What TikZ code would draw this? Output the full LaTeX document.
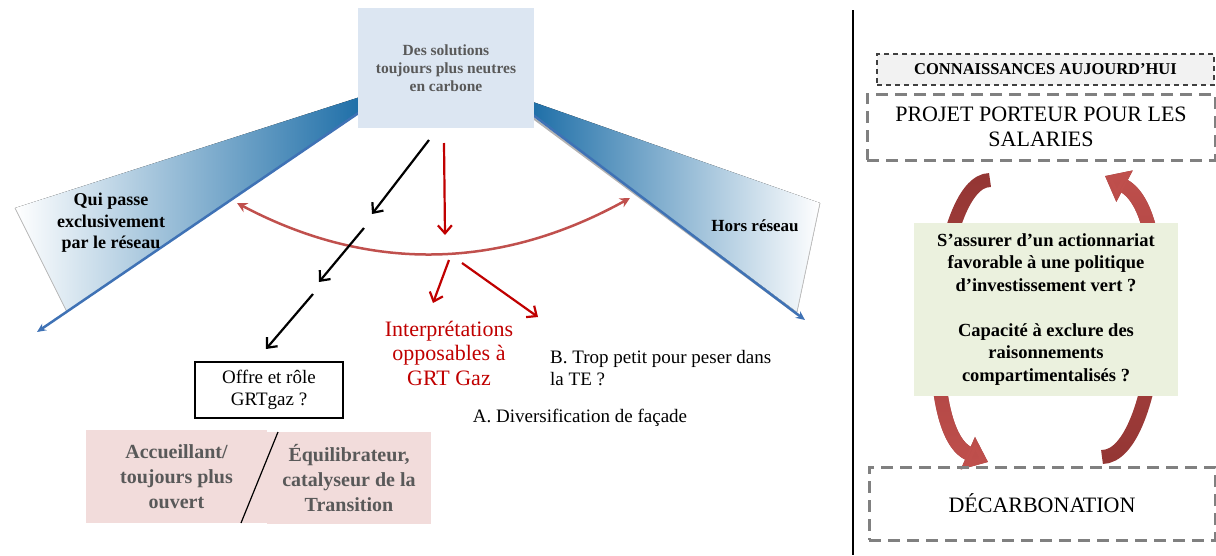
\documentclass[tikz,border=0pt]{standalone}
\usepackage{fontspec}
\setmainfont{Liberation Serif}
\usetikzlibrary{arrows.meta,fadings}
\definecolor{boxblue}{HTML}{DCE6F2}
\definecolor{txtgray}{HTML}{595959}
\definecolor{wblue}{HTML}{1F6FA8}
\definecolor{midblue}{HTML}{A9C9E0}
\definecolor{lblue}{HTML}{3F72B5}
\definecolor{arcred}{HTML}{C0504D}
\definecolor{darkarc}{HTML}{943634}
\definecolor{dred}{HTML}{C00000}
\definecolor{pinkbox}{HTML}{F2DCDB}
\definecolor{greenbox}{HTML}{EBF1DE}
\definecolor{dashgray}{HTML}{808080}
\definecolor{conngray}{HTML}{F2F2F2}
\newcommand\fs[2]{\fontsize{#1}{#2}\selectfont}
\begin{document}
\begin{tikzpicture}[x=1pt,y=-1pt,
  plain/.style={inner sep=0pt, align=center},
  bigdash/.style={draw=dashgray, line width=3pt, dash pattern=on 12pt off 7pt, inner sep=0pt, align=center, font=\fs{22}{25}},
  blackarr/.style={line width=2.2pt, -{Straight Barb[length=8pt,width=14pt]}},
  redarr/.style={dred, line width=2.2pt, -{Straight Barb[length=8pt,width=14pt]}},
]
\useasboundingbox (0,0) rectangle (1216,555);

% wedges
\fill[left color=white, middle color=midblue, right color=wblue] (360,97) -- (15,208) -- (67,312) -- (360,112) -- cycle;
\draw[gray!50, line width=0.8pt] (15,208) -- (67,312);
\coordinate (la) at (360,112);
\coordinate (lt) at (37,332);
\draw[lblue, line width=2.5pt, -{Stealth[length=9pt,width=8pt]}] (la) -- (lt);

\draw[gray!60, line width=2pt] (533,118) -- (798,315);
\fill[left color=wblue, middle color=midblue, right color=white] (533,102) -- (820,203) -- (797,312) -- (533,115) -- cycle;
\draw[gray!50, line width=0.8pt] (820,203) -- (797,312);
\coordinate (ra) at (533,115);
\coordinate (rt) at (805,320);
\draw[lblue, line width=2.5pt, -{Stealth[length=9pt,width=8pt]}] (ra) -- (rt);

% top box
\node[plain, fill=boxblue, minimum width=176pt, minimum height=120pt, font=\fs{15.5}{18}\bfseries, text=txtgray] (top) at (446,68) {Des solutions\\toujours plus neutres\\en carbone};

% wedge labels
\node[plain, font=\fs{18}{21.5}\bfseries] (qui) at (111,223) {Qui passe\\exclusivement\\par le réseau};
\node[plain, font=\fs{17}{20}\bfseries] (hors) at (755,226) {Hors réseau};

% red curved double arrow
\coordinate (cl) at (237,203);
\coordinate (cr) at (630,198);
\draw[arcred, line width=2.5pt, {Stealth[length=10pt,width=10pt]}-{Stealth[length=10pt,width=10pt]}] (cl) .. controls (367,272) and (498,271) .. (cr);

% black arrows
\coordinate (b1s) at (429,140); \coordinate (b1e) at (372,214);
\coordinate (b2s) at (364,228); \coordinate (b2e) at (319,282);
\coordinate (b3s) at (313,294); \coordinate (b3e) at (266,349);
\draw[blackarr] (b1s) -- (b1e);
\draw[blackarr] (b2s) -- (b2e);
\draw[blackarr] (b3s) -- (b3e);

% red arrows
\coordinate (r1s) at (444,143); \coordinate (r1e) at (445,235);
\coordinate (r2s) at (449,260); \coordinate (r2e) at (433,303);
\coordinate (r3s) at (462,263); \coordinate (r3e) at (538,317);
\draw[redarr] (r1s) -- (r1e);
\draw[redarr] (r2s) -- (r2e);
\draw[redarr] (r3s) -- (r3e);

% texts
\node[plain, text=dred, font=\fs{22}{24.5}] (interp) at (449,353) {Interprétations\\opposables à\\GRT Gaz};
\node[inner sep=0pt, align=left, anchor=west, font=\fs{19}{22}] (trop) at (550,368) {B. Trop petit pour peser dans\\la TE ?};
\node[plain, font=\fs{19}{22}] (diversif) at (580,418) {A. Diversification de façade};

% offre box
\node[plain, draw, line width=1.3pt, fill=white, minimum width=148pt, minimum height=56pt, font=\fs{19}{22}] (offre) at (269,390) {Offre et rôle\\GRTgaz ?};

% pink boxes
\node[plain, fill=pinkbox, minimum width=181pt, minimum height=93pt, text=txtgray, font=\fs{20}{25}\bfseries] (accueil) at (176.5,476.5) {Accueillant/\\toujours plus\\ouvert};
\node[plain, fill=pinkbox, minimum width=164pt, minimum height=92pt, text=txtgray, font=\fs{20}{25}\bfseries] (equil) at (349,478) {Équilibrateur,\\catalyseur de la\\Transition};
\coordinate (d1) at (278,432);
\coordinate (d2) at (241,523);
\draw[line width=1.2pt] (d1) -- (d2);

% separator
\coordinate (s1) at (853,10);
\coordinate (s2) at (853,555);
\draw[line width=1.2pt] (s1) -- (s2);

% right panel curved arrows
\coordinate (alt) at (990,180);
\coordinate (alb) at (988,462);
\coordinate (arb) at (1102,457);
\coordinate (art) at (1105,176);
\draw[darkarc, line width=14pt, -{Triangle[length=22pt,width=34pt]}] (alt) .. controls (935,180) and (915,430) .. (alb);
\draw[arcred, line width=14pt, path fading=north, -{Triangle[length=22pt,width=34pt]}] (alt) .. controls (935,180) and (915,430) .. (alb);
\draw[darkarc, line width=14pt, -{Triangle[length=22pt,width=34pt]}] (arb) .. controls (1160,457) and (1180,215) .. (art);
\draw[arcred, line width=14pt, path fading=south, -{Triangle[length=22pt,width=34pt]}] (arb) .. controls (1160,457) and (1180,215) .. (art);

% right panel boxes
\node[plain, draw=black!75, fill=conngray, line width=1.3pt, dash pattern=on 5pt off 4pt, minimum width=337pt, minimum height=31pt, font=\fs{16.5}{19}\bfseries] (conn) at (1045.5,69.5) {CONNAISSANCES AUJOURD’HUI};
\node[bigdash, minimum width=348pt, minimum height=66pt] (projet) at (1041,127) {PROJET PORTEUR POUR LES\\SALARIES};
\node[bigdash, minimum width=346pt, minimum height=73pt] (decarb) at (1042,503.5) {DÉCARBONATION};
\node[plain, fill=greenbox, minimum width=264pt, minimum height=173pt, font=\fs{18.5}{22.5}\bfseries] (green) at (1046,309.5) {S’assurer d’un actionnariat\\favorable à une politique\\d’investissement vert ?\\[22.5pt]Capacité à exclure des\\raisonnements\\compartimentalisés ?};
\end{tikzpicture}
\end{document}
